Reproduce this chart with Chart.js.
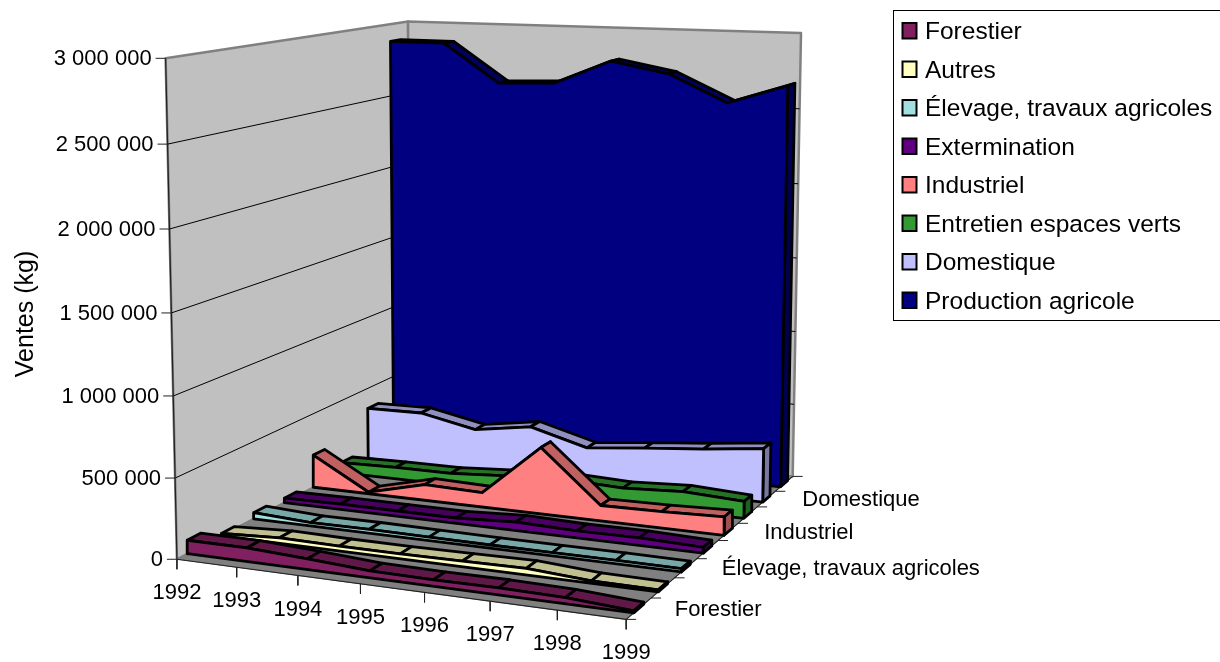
<!DOCTYPE html>
<html lang="fr">
<head>
<meta charset="utf-8">
<title>Ventes (kg)</title>
<script src="https://cdn.jsdelivr.net/npm/chart.js@4"></script>
<style>
  html, body { margin: 0; padding: 0; background: #fff; }
  canvas { display: block; }
</style>
</head>
<body>
<canvas id="chart" width="1220" height="662" style="width:1220px;height:662px"></canvas>
<script>
const years = ['1992', '1993', '1994', '1995', '1996', '1997', '1998', '1999'];
const valueTicks = [0, 500000, 1000000, 1500000, 2000000, 2500000, 3000000];
const valueMax = 3000000;

// front to back, same order as the legend
const seriesNames = ['Forestier', 'Autres', 'Élevage, travaux agricoles', 'Extermination',
  'Industriel', 'Entretien espaces verts', 'Domestique', 'Production agricole'];
const depthLabels = ['Forestier', '', 'Élevage, travaux agricoles', '', 'Industriel', '', 'Domestique', ''];

const forestier = [84000, 84000, 66000, 42000, 39000, 42000, 36000, 12000];
const autres = [15000, 35000, 30000, 30000, 35000, 40000, 15000, 12000];
const elevage = [40000, 22000, 25000, 22000, 20000, 20000, 22000, 20000];
const extermination = [30000, 35000, 35000, 35000, 55000, 45000, 48000, 36000];
const industriel = [220000, 10000, 105000, 95000, 435000, 100000, 105000, 118000];
const entretien = [70000, 78000, 80000, 105000, 125000, 110000, 130000, 110000];
const domestique = [358000, 364000, 286000, 345000, 240000, 279000, 313000, 358000];
const production = [2880000, 2880000, 2620000, 2635000, 2798000, 2727000, 2550000, 2680000];
const seriesValues = [forestier, autres, elevage, extermination, industriel, entretien, domestique, production];

const frontColors = ['#802060', '#FFFFC0', '#A0E0E0', '#600080', '#FF8080', '#339933', '#C0C0FF', '#000080'];
const topColors = ['#601848', '#C0C090', '#78A8A8', '#480060', '#C06060', '#267326', '#9090C0', '#000060'];
const endColors = ['#501440', '#A0A078', '#648C8C', '#3C0050', '#A05050', '#206020', '#7878A0', '#000050'];

// camera: [category 0-1, depth 0-1, value 0-1, screen x, screen y]
const anchors = [
  [0, 0, 0, 177, 559], [1, 0, 0, 627, 618.5], [1, 1, 0, 792, 476], [0, 1, 0, 412, 437],
  [0, 0, 1, 165, 59], [0, 1, 1, 408, 21], [1, 1, 1, 801, 33],
  [3 / 7, 0, 0, 360, 584], [5 / 7, 0, 0, 490, 602], [1, 0.25, 0, 675, 578], [1, 0.5, 0, 718, 541],
  [1, 0.75, 0, 757, 507], [0, 0.2875, 0, 253, 518], [0, 0.5375, 0, 313, 487],
  [0, 0, 1 / 6, 175, 478], [0, 0, 0.5, 172, 313], [0, 0, 5 / 6, 168, 144]
];

// least squares for the 11 projection coefficients
function solveCamera() {
  const rows = [];
  anchors.forEach(([u, v, w, sx, sy]) => {
    rows.push([u, v, w, 1, 0, 0, 0, 0, -sx * u, -sx * v, -sx * w, sx]);
    rows.push([0, 0, 0, 0, u, v, w, 1, -sy * u, -sy * v, -sy * w, sy]);
  });
  const n = 11;
  const m = [];
  for (let a = 0; a < n; a++) {
    m.push([]);
    for (let b = 0; b <= n; b++) {
      m[a].push(rows.reduce((s, r) => s + r[a] * r[b], 0));
    }
  }
  for (let c = 0; c < n; c++) {
    let best = c;
    for (let r = c + 1; r < n; r++) if (Math.abs(m[r][c]) > Math.abs(m[best][c])) best = r;
    [m[c], m[best]] = [m[best], m[c]];
    for (let r = 0; r < n; r++) {
      if (r === c) continue;
      const f = m[r][c] / m[c][c];
      for (let k = c; k <= n; k++) m[r][k] -= f * m[c][k];
    }
  }
  return m.map((row, i) => row[n] / row[i]);
}
const cam = solveCamera();

// category index, depth slot (0-8), value in kg -> screen point
function project(cat, slot, value) {
  const u = cat / (years.length - 1), v = slot / seriesNames.length, w = value / valueMax;
  const q = cam[8] * u + cam[9] * v + cam[10] * w + 1;
  return {
    x: (cam[0] * u + cam[1] * v + cam[2] * w + cam[3]) / q,
    y: (cam[4] * u + cam[5] * v + cam[6] * w + cam[7]) / q
  };
}

const shapes = [];
function addShape(points, fillColor, lineColor, lineWidth) {
  shapes.push({
    data: fillColor ? points.concat([points[0]]) : points,
    showLine: true,
    fill: fillColor ? 'shape' : false,
    backgroundColor: fillColor || 'transparent',
    borderColor: lineColor,
    borderWidth: lineWidth,
    borderJoinStyle: 'round',
    pointRadius: 0,
    tension: 0,
    clip: false
  });
}

const lastCat = years.length - 1;
const slots = seriesNames.length;

// walls and floor
addShape([project(0, 0, 0), project(0, slots, 0), project(0, slots, valueMax), project(0, 0, valueMax)], '#C0C0C0', '#808080', 2.5);
addShape([project(0, slots, 0), project(lastCat, slots, 0), project(lastCat, slots, valueMax), project(0, slots, valueMax)], '#C0C0C0', '#808080', 2.5);
addShape([project(0, 0, 0), project(lastCat, 0, 0), project(lastCat, slots, 0), project(0, slots, 0)], '#808080', '#808080', 1);

// gridlines
valueTicks.slice(1, -1).forEach(t => {
  addShape([project(0, 0, t), project(0, slots, t), project(lastCat, slots, t)], null, '#000', 1);
});

// axes and tick marks
addShape([project(0, 0, 0), project(0, 0, valueMax)], null, '#222', 1.2);
addShape([project(0, 0, 0), project(lastCat, 0, 0), project(lastCat, slots, 0)], null, '#222', 1.2);
valueTicks.forEach(t => {
  const p = project(0, 0, t);
  addShape([p, { x: p.x - 10, y: p.y }], null, '#222', 1);
});
years.forEach((y, i) => {
  const p = project(i, 0, 0);
  addShape([p, { x: p.x, y: p.y + 10 }], null, '#222', 1);
});
for (let s = 0; s <= slots; s++) {
  const p = project(lastCat, s, 0);
  addShape([p, { x: p.x + 10, y: p.y }], null, '#222', 1);
}

// areas, back to front
for (let j = slots - 1; j >= 0; j--) {
  const vals = seriesValues[j];
  const df = j + 0.3, db = j + 0.7;
  for (let i = 0; i < lastCat; i++) {
    addShape([project(i, df, vals[i]), project(i + 1, df, vals[i + 1]),
      project(i + 1, db, vals[i + 1]), project(i, db, vals[i])], topColors[j], '#000', 2.8);
  }
  addShape([project(lastCat, df, 0), project(lastCat, db, 0),
    project(lastCat, db, vals[lastCat]), project(lastCat, df, vals[lastCat])], endColors[j], '#000', 2.8);
  const front = vals.map((v, i) => project(i, df, v));
  addShape([project(0, df, 0)].concat(front, [project(lastCat, df, 0)]), frontColors[j], '#000', 2.8);
}

// the first dataset is painted last, so flip the list
shapes.reverse();

const font = size => size + 'px "Liberation Sans", Arial, sans-serif';

const textPlugin = {
  id: 'axisText',
  afterDraw(chart) {
    const ctx = chart.ctx;
    ctx.save();
    ctx.fillStyle = '#000';
    ctx.textBaseline = 'middle';

    // value axis
    ctx.font = font(22);
    ctx.textAlign = 'right';
    valueTicks.forEach(t => {
      const p = project(0, 0, t);
      const label = t.toString().replace(/\B(?=(\d{3})+$)/g, ' ');
      ctx.fillText(label, p.x - 14, p.y + 1);
    });

    // categories
    ctx.textAlign = 'center';
    years.forEach((y, i) => {
      const p = project(i, 0, 0);
      ctx.fillText(y, p.x, p.y + 34);
    });

    // depth axis
    ctx.textAlign = 'left';
    depthLabels.forEach((name, s) => {
      if (!name) return;
      const p = project(lastCat, s + 0.5, 0);
      ctx.fillText(name, p.x + 36, p.y + 1);
    });

    // axis title
    ctx.save();
    ctx.translate(26, 314);
    ctx.rotate(-Math.PI / 2);
    ctx.textAlign = 'center';
    ctx.font = font(25);
    ctx.fillText('Ventes (kg)', 0, 0);
    ctx.restore();

    // legend
    ctx.strokeStyle = '#000';
    ctx.lineWidth = 1;
    ctx.strokeRect(893.5, 10.5, 340, 310);
    ctx.font = font(24.5);
    ctx.textAlign = 'left';
    seriesNames.forEach((name, j) => {
      const y = 31 + j * 38.5;
      ctx.fillStyle = frontColors[j];
      ctx.lineWidth = 2;
      ctx.fillRect(902.5, y - 8, 14, 15.5);
      ctx.strokeRect(902.5, y - 8, 14, 15.5);
      ctx.fillStyle = '#000';
      ctx.fillText(name, 925, y + 1.5);
    });
    ctx.restore();
  }
};

new Chart(document.getElementById('chart'), {
  type: 'scatter',
  data: { datasets: shapes },
  options: {
    responsive: false,
    animation: false,
    layout: { padding: 0 },
    plugins: { legend: { display: false }, tooltip: { enabled: false } },
    scales: {
      x: { type: 'linear', min: 0, max: 1220, display: false },
      y: { type: 'linear', min: 0, max: 662, reverse: true, display: false }
    }
  },
  plugins: [textPlugin]
});
</script>
</body>
</html>
